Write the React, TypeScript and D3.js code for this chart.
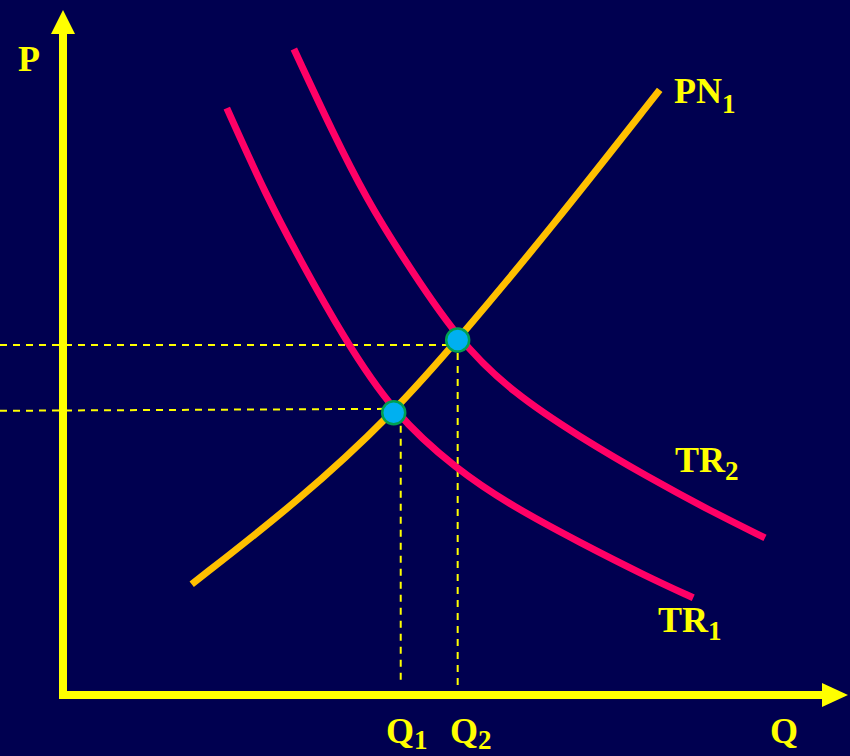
import React from 'react';
import { scaleLinear, line, curveBasis } from 'd3';

const width = 850;
const height = 756;

// curves in chart units (Q, P), 0..100 on both axes
const pnQ = [16.5, 30.4, 42.4, 50.6, 62.4, 76.5];
const pnP = [16.3, 28.7, 41.5, 52.2, 68.4, 89.0];

const tr1Q = [21.0, 26.1, 30.4, 35.9, 42.3, 50.5, 57.7, 66.3, 74.9, 80.8];
const tr1P = [86.3, 73.3, 64.0, 52.7, 41.5, 33.1, 27.7, 22.4, 17.4, 14.3];

const tr2Q = [29.6, 34.6, 39.0, 43.2, 50.6, 57.7, 66.3, 74.9, 83.3, 90.0];
const tr2P = [95.0, 82.7, 72.8, 65.0, 52.2, 44.4, 37.9, 32.1, 26.9, 23.1];

// equilibrium points
const eqQ = [42.4, 50.6];
const eqP = [41.5, 52.2];

const bg = '#000050';
const yellow = '#FFFF00';

function App() {
  const x = scaleLinear().domain([0, 100]).range([63, 843]);
  const y = scaleLinear().domain([0, 100]).range([695, 15]);

  const path = (qs: number[], ps: number[]) =>
    line<number>()
      .x((d) => x(qs[d]))
      .y((d) => y(ps[d]))
      .curve(curveBasis)(qs.map((_, i) => i)) || '';

  const x0 = x(0);
  const y0 = y(0);
  const labelStyle = {
    fontFamily: '"Liberation Serif", "Times New Roman", serif',
    fontWeight: 'bold' as const,
    fill: yellow,
  };
  const dash = { stroke: yellow, strokeWidth: 2, strokeDasharray: '7,6' };

  return (
    <div style={{ position: 'fixed', left: 0, top: 0 }}>
      <svg width={width} height={height} style={{ display: 'block' }}>
        <rect width={width} height={height} fill={bg} />

        {/* dashed guides */}
        <line x1={0} y1={y(eqP[1]) + 5} x2={x(eqQ[1])} y2={y(eqP[1]) + 5} {...dash} />
        <line x1={0} y1={y(eqP[0]) - 2} x2={x(eqQ[0])} y2={y(eqP[0]) - 4} {...dash} />
        <line x1={x(eqQ[1])} y1={y(eqP[1])} x2={x(eqQ[1])} y2={y0 - 5} {...dash} />
        <line x1={x(eqQ[0]) + 7} y1={y(eqP[0])} x2={x(eqQ[0]) + 7} y2={y0 - 10} {...dash} />

        {/* axes */}
        <line x1={x0} y1={y0} x2={x0} y2={30} stroke={yellow} strokeWidth={8} />
        <polygon points={`${x0},10 ${x0 - 12},34 ${x0 + 12},34`} fill={yellow} />
        <line x1={x0 - 4} y1={y0} x2={826} y2={y0} stroke={yellow} strokeWidth={8} />
        <polygon points={`848,${y0} 822,${y0 - 12} 822,${y0 + 12}`} fill={yellow} />

        {/* curves */}
        <path d={path(tr1Q, tr1P)} fill="none" stroke="#FF0066" strokeWidth={7} />
        <path d={path(tr2Q, tr2P)} fill="none" stroke="#FF0066" strokeWidth={7} />
        <path d={path(pnQ, pnP)} fill="none" stroke="#FFC000" strokeWidth={7} />

        {eqQ.map((q, i) => (
          <circle key={i} cx={x(q)} cy={y(eqP[i])} r={11.5} fill="#00B0F0" stroke="#00A050" strokeWidth={2.5} />
        ))}

        {/* labels */}
        <text x={18} y={71} fontSize={36} style={labelStyle}>P</text>
        <text x={674} y={103} fontSize={36} style={labelStyle}>
          PN<tspan fontSize={27} dy={10}>1</tspan>
        </text>
        <text x={675} y={472} fontSize={36} style={labelStyle}>
          TR<tspan fontSize={27} dy={8}>2</tspan>
        </text>
        <text x={658} y={632} fontSize={36} style={labelStyle}>
          TR<tspan fontSize={27} dy={8}>1</tspan>
        </text>
        <text x={386} y={743} fontSize={36} style={labelStyle}>
          Q<tspan fontSize={27} dy={6}>1</tspan>
        </text>
        <text x={450} y={743} fontSize={36} style={labelStyle}>
          Q<tspan fontSize={27} dy={6}>2</tspan>
        </text>
        <text x={770} y={743} fontSize={36} style={labelStyle}>Q</text>
      </svg>
    </div>
  );
}

export default App;
